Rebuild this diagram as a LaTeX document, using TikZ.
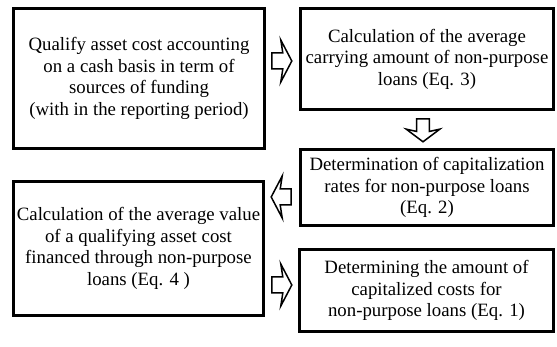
\documentclass[tikz,border=0pt]{standalone}
\usepackage{fontspec}
\setmainfont{Liberation Serif}
\usetikzlibrary{calc}

\newcommand{\hollowarrow}[3][]{%
  \draw[hollow, shift={#2}, rotate=#3, #1] (0,8) -- (11,8) -- (9,21) -- (20,0) -- (9,-21) -- (11,-8) -- (0,-8) -- cycle;}

\begin{document}
\begin{tikzpicture}[
      x=1pt, y=1pt,
      box/.style={draw, line width=2.6pt, align=center, inner sep=0pt, font=\fontsize{18.8}{21.5}\selectfont},
      hollow/.style={draw, line width=1.5pt, fill=white, line join=miter}
    ]
    \useasboundingbox (0,0) rectangle (557,-347);
    \node[box, minimum width=251pt, minimum height=140pt] (qualify) at (139,-78.5) {Qualify asset cost accounting\\on a cash basis in term of\\sources of funding\\(with in the reporting period)};
    \node[box, minimum width=253pt, minimum height=101pt] (carrying) at (427,-59) {Calculation of the average\\carrying amount of non-purpose\\loans (Eq. 3)};
    \node[box, minimum width=253pt, minimum height=76pt] (rates) at (427,-187.5) {Determination of capitalization\\rates for non-purpose loans\\(Eq. 2)};
    \node[box, minimum width=250pt, minimum height=134pt] (avgvalue) at (138.5,-248.5) {Calculation of the average value\\of a qualifying asset cost\\financed through non-purpose\\loans (Eq. 4 )};
    \node[box, minimum width=254pt, minimum height=82pt] (capitalized) at (426.5,-290.5) {Determining the amount of\\capitalized costs for\\non-purpose loans (Eq. 1)};

    \hollowarrow{($(qualify.east |- carrying.west)+(6,-2)$)}{0}
    \hollowarrow[xscale=1.15, yscale=0.8]{($(carrying.south)+(-4,-8)$)}{-90}
    \hollowarrow{($(rates.west)+(-8,-9.5)$)}{180}
    \hollowarrow{($(avgvalue.east |- capitalized.west)+(7,5.5)$)}{0}
  \end{tikzpicture}
\end{document}
